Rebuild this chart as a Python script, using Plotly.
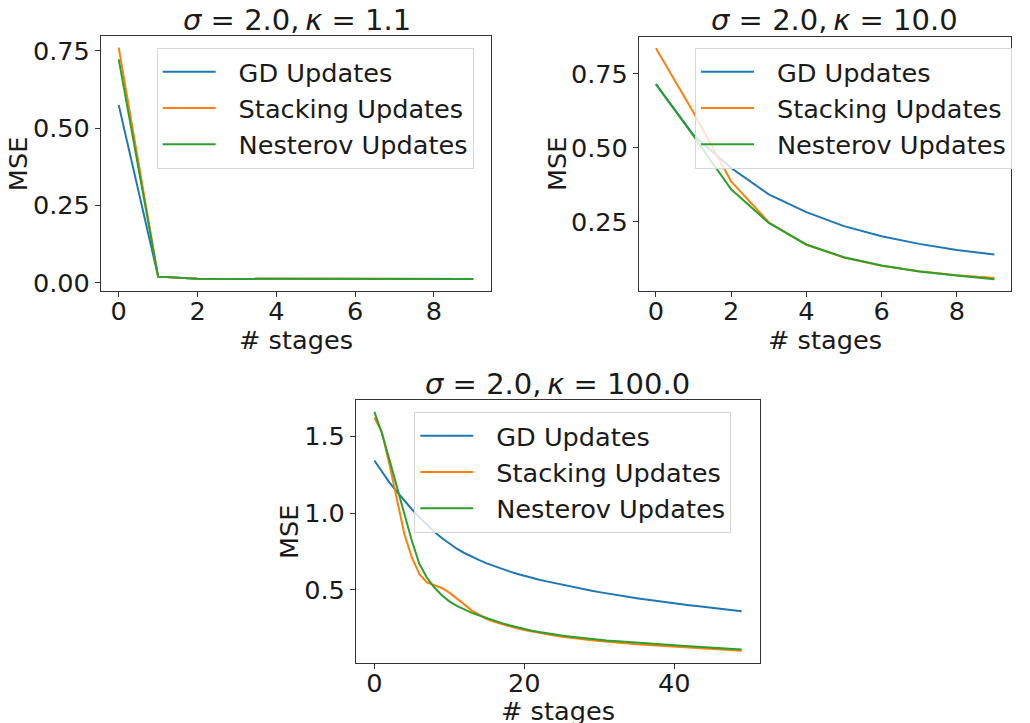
import plotly.graph_objects as go

# ---------------- data ----------------
stages_a = list(range(10))
gd_a = [0.574, 0.020, 0.013, 0.013, 0.012, 0.012, 0.012, 0.012, 0.012, 0.012]
stack_a = [0.760, 0.020, 0.013, 0.013, 0.012, 0.012, 0.012, 0.012, 0.012, 0.012]
nest_a = [0.722, 0.020, 0.013, 0.013, 0.012, 0.012, 0.012, 0.012, 0.012, 0.012]

stages_b = list(range(10))
gd_b = [0.715, 0.543, 0.432, 0.343, 0.283, 0.236, 0.202, 0.176, 0.155, 0.140]
stack_b = [0.836, 0.619, 0.387, 0.249, 0.173, 0.130, 0.102, 0.084, 0.070, 0.061]
nest_b = [0.715, 0.540, 0.360, 0.247, 0.174, 0.131, 0.103, 0.083, 0.069, 0.057]

stages_c = list(range(50))
gd_c = [1.343, 1.270, 1.200, 1.140, 1.080, 1.025, 0.973, 0.923, 0.878, 0.838,
        0.800, 0.768, 0.740, 0.715, 0.693, 0.672, 0.653, 0.636, 0.620, 0.605,
        0.591, 0.578, 0.566, 0.555, 0.544, 0.533, 0.523, 0.513, 0.503, 0.494,
        0.485, 0.476, 0.468, 0.460, 0.452, 0.445, 0.438, 0.431, 0.424, 0.418,
        0.412, 0.406, 0.400, 0.394, 0.389, 0.383, 0.378, 0.372, 0.367, 0.360]
stack_c = [1.622, 1.528, 1.320, 1.080, 0.864, 0.711, 0.603, 0.548, 0.530, 0.512,
           0.482, 0.446, 0.405, 0.365, 0.335, 0.310, 0.292, 0.276, 0.262, 0.249,
           0.238, 0.228, 0.219, 0.210, 0.202, 0.195, 0.188, 0.182, 0.176, 0.171,
           0.166, 0.161, 0.157, 0.153, 0.149, 0.145, 0.142, 0.139, 0.136, 0.133,
           0.130, 0.127, 0.124, 0.121, 0.118, 0.115, 0.112, 0.109, 0.106, 0.103]
nest_c = [1.659, 1.520, 1.350, 1.180, 0.995, 0.820, 0.670, 0.580, 0.515, 0.465,
          0.425, 0.395, 0.370, 0.350, 0.333, 0.315, 0.298, 0.283, 0.269, 0.256,
          0.245, 0.234, 0.225, 0.216, 0.209, 0.202, 0.196, 0.190, 0.185, 0.180,
          0.175, 0.170, 0.166, 0.162, 0.158, 0.154, 0.150, 0.147, 0.144, 0.141,
          0.138, 0.135, 0.132, 0.129, 0.126, 0.123, 0.120, 0.117, 0.114, 0.111]

titles = ["<i>σ</i> = 2.0,\u2009<i>κ</i> = 1.1",
          "<i>σ</i> = 2.0,\u2009<i>κ</i> = 10.0",
          "<i>σ</i> = 2.0,\u2009<i>κ</i> = 100.0"]
series_names = ["GD Updates", "Stacking Updates", "Nesterov Updates"]
x_label = "# stages"
y_label = "MSE"
colors = ["#1f77b4", "#ff7f0e", "#2ca02c"]
xticks_ab = [0, 2, 4, 6, 8]
xticks_c = [0, 20, 40]
yticks_a = [0.0, 0.25, 0.5, 0.75]
yticks_b = [0.25, 0.5, 0.75]
yticks_c = [0.5, 1.0, 1.5]

# ---------------- layout geometry (screen px) ----------------
OFF = 0                      # page body margin removed via post_script
W, H = 1030, 723
FONT = "DejaVu Sans"
FS = 25.6


def fx(px):
    return (px - OFF) / W


def fy(py):
    return 1 - (py - OFF) / H


panels = [
    dict(x=stages_a, ys=[gd_a, stack_a, nest_a], box=(101, 491, 36, 290.7),
         xt=xticks_ab, yt=yticks_a, yfmt=".2f", leg=(156.7, 47.5),
         title=(296.7, 20), xlab=(296, 339.5), ylab=(18.8, 163.4)),
    dict(x=stages_b, ys=[gd_b, stack_b, nest_b], box=(639, 1011.3, 36.7, 290.7),
         xt=xticks_ab, yt=yticks_b, yfmt=".2f", leg=(695, 47.5),
         title=(834, 20), xlab=(825, 339.5), ylab=(556.3, 163.7)),
    dict(x=stages_c, ys=[gd_c, stack_c, nest_c], box=(356, 760, 400, 662.7),
         xt=xticks_c, yt=yticks_c, yfmt=".1f", leg=(414.3, 411.5),
         title=(557.5, 384), xlab=(558, 711), ylab=(288.8, 531.3)),
]

fig = go.Figure()
layout = dict(width=W, height=H,
              margin=dict(l=0, r=0, t=0, b=0, autoexpand=False),
              paper_bgcolor="white", plot_bgcolor="white",
              font=dict(family=FONT, size=FS, color="#1a1a1a"),
              annotations=[])

for i, p in enumerate(panels):
    k = "" if i == 0 else str(i + 1)
    legname = "legend" if i == 0 else f"legend{i + 1}"
    for j, (name, ys) in enumerate(zip(series_names, p["ys"])):
        fig.add_trace(go.Scatter(
            x=p["x"], y=ys, mode="lines", name="\u2002\u2009" + name,
            line=dict(color=colors[j], width=2),
            xaxis="x" + k, yaxis="y" + k, legend=legname,
            legendgroup=f"g{i}_{j}"))
    x0, x1, y0, y1 = p["box"]
    xs = p["x"]
    xspan = max(xs) - min(xs)
    allv = [v for s in p["ys"] for v in s]
    yspan = max(allv) - min(allv)
    axcommon = dict(showline=True, mirror=True, linecolor="#333333", linewidth=1,
                    ticks="outside", ticklen=5, tickwidth=1, tickcolor="#333333",
                    showgrid=False, zeroline=False, automargin=False,
                    tickfont=dict(family=FONT, size=FS, color="#1a1a1a"))
    layout["xaxis" + k] = dict(
        domain=[fx(x0), fx(x1)],
        range=[min(xs) - 0.05 * xspan, max(xs) + 0.05 * xspan],
        tickvals=p["xt"], anchor="y" + k, ticklabelstandoff=-7,
        **axcommon)
    layout["yaxis" + k] = dict(
        domain=[fy(y1), fy(y0)],
        range=[min(allv) - 0.05 * yspan, max(allv) + 0.05 * yspan],
        tickvals=p["yt"], tickformat=p["yfmt"], anchor="x" + k,
        **axcommon)
    lx, ly = p["leg"]
    layout[legname] = dict(
        x=fx(lx), y=fy(ly), xanchor="left", yanchor="top",
        xref="paper", yref="paper",
        bgcolor="rgba(255,255,255,0.8)", bordercolor="#d6d6d6", borderwidth=1,
        font=dict(family=FONT, size=FS, color="#1a1a1a"),
        itemwidth=53, tracegroupgap=4, traceorder="normal")
    tx, ty = p["title"]
    layout["annotations"].append(dict(
        text=titles[i], x=fx(tx), y=fy(ty),
        xref="paper", yref="paper", xanchor="center", yanchor="middle",
        showarrow=False, borderpad=0,
        font=dict(family=FONT, size=29, color="#1a1a1a")))
    ax_, ay_ = p["xlab"]
    layout["annotations"].append(dict(
        text=x_label, x=fx(ax_), y=fy(ay_),
        xref="paper", yref="paper", xanchor="center", yanchor="middle",
        showarrow=False, borderpad=0,
        font=dict(family=FONT, size=FS, color="#1a1a1a")))
    bx_, by_ = p["ylab"]
    layout["annotations"].append(dict(
        text=y_label, x=fx(bx_), y=fy(by_), textangle=-90,
        xref="paper", yref="paper", xanchor="center", yanchor="middle",
        showarrow=False, borderpad=0,
        font=dict(family=FONT, size=FS, color="#1a1a1a")))

fig.update_layout(**layout)
fig.write_html("out.html",
               config={"displayModeBar": False},
               post_script="document.body.style.margin='0';"
                           "document.body.style.overflow='hidden';")
